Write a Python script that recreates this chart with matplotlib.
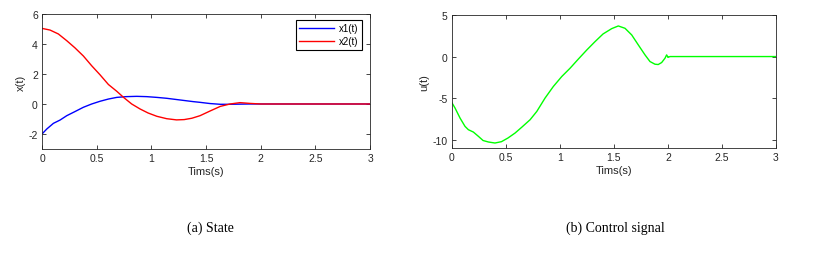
import matplotlib
matplotlib.use('Agg')
import matplotlib.pyplot as plt
import numpy as np

# state trajectories
t_x1 = [0, 0.043, 0.104, 0.165, 0.226, 0.30, 0.378, 0.454, 0.53, 0.607, 0.683, 0.77, 0.866, 0.957,
        1.05, 1.14, 1.26, 1.38, 1.445, 1.536, 1.63, 1.72, 1.9, 2.2, 3.0]
x1 = [-2.0, -1.67, -1.29, -1.07, -0.78, -0.51, -0.22, 0.0, 0.18, 0.33, 0.44, 0.49, 0.51, 0.49,
      0.44, 0.38, 0.27, 0.16, 0.11, 0.03, -0.02, -0.02, 0.0, 0.0, 0.0]

t_x2 = [0, 0.073, 0.149, 0.226, 0.30, 0.378, 0.454, 0.53, 0.607, 0.683, 0.744, 0.82, 0.896, 0.97,
        1.05, 1.14, 1.23, 1.30, 1.37, 1.445, 1.536, 1.63, 1.72, 1.81, 1.9, 2.0, 3.0]
x2 = [5.04, 4.93, 4.67, 4.22, 3.75, 3.2, 2.55, 1.95, 1.3, 0.85, 0.45, 0.0, -0.33, -0.6,
      -0.82, -0.98, -1.06, -1.04, -0.95, -0.78, -0.47, -0.16, 0.0, 0.09, 0.04, 0.0, 0.0]

# control signal
t_u = [0, 0.031, 0.077, 0.123, 0.154, 0.2, 0.247, 0.29, 0.34, 0.40, 0.46, 0.52, 0.586, 0.648, 0.725,
       0.787, 0.863, 0.94, 1.018, 1.095, 1.17, 1.25, 1.326, 1.40, 1.48, 1.541, 1.603, 1.665, 1.726,
       1.788, 1.834, 1.88, 1.91, 1.942, 1.973, 1.988, 1.997, 2.0, 2.02, 3.0]
u = [-5.52, -6.2, -7.4, -8.4, -8.8, -9.08, -9.6, -10.1, -10.28, -10.4, -10.24, -9.8, -9.2, -8.5, -7.6,
     -6.6, -5.0, -3.6, -2.4, -1.4, -0.32, 0.8, 1.8, 2.72, 3.36, 3.68, 3.4, 2.6, 1.4,
     0.2, -0.6, -0.92, -0.96, -0.72, -0.2, 0.2, 0.0, -0.1, 0.0, 0.0]

tcol = '#262626'
plt.rcParams['font.family'] = ['Liberation Sans', 'DejaVu Sans']
plt.rcParams['axes.unicode_minus'] = False

fig = plt.figure(figsize=(8.29, 2.55), dpi=100)


def style(ax):
    ax.tick_params(direction='in', top=True, right=True, length=3, width=0.6,
                   colors=tcol, labelsize=7.5, pad=3)
    for s in ax.spines.values():
        s.set_linewidth(0.6)
        s.set_color(tcol)


ax1 = fig.add_axes([0.0507, 0.4118, 0.3957, 0.5294])
ax1.plot(t_x1, x1, color=(0, 0, 1), lw=1.0, label='x1(t)')
ax1.plot(t_x2, x2, color=(1, 0, 0), lw=1.0, label='x2(t)')
ax1.set_xlim(0, 3)
ax1.set_ylim(-3, 6)
ax1.set_xticks([0, 0.5, 1, 1.5, 2, 2.5, 3])
ax1.set_xticklabels(['0', '0.5', '1', '1.5', '2', '2.5', '3'])
ax1.set_yticks([-2, 0, 2, 4, 6])
ax1.set_xlabel('Tims(s)', color=tcol, fontsize=8, labelpad=2)
ax1.set_ylabel('x(t)', color=tcol, fontsize=8, labelpad=2)
style(ax1)
leg = ax1.legend(loc='upper right', bbox_to_anchor=(0.9756, 0.9556), fontsize=7,
                 fancybox=False, framealpha=1, edgecolor='black', handlelength=3.6,
                 borderpad=0.35, labelspacing=0.3, handletextpad=0.5, borderaxespad=0)
leg.get_frame().set_linewidth(0.8)

ax2 = fig.add_axes([0.5449, 0.4157, 0.3912, 0.5216])
ax2.plot(t_u, u, color=(0, 1, 0), lw=1.0)
ax2.set_xlim(0, 3)
ax2.set_ylim(-11, 5)
ax2.set_xticks([0, 0.5, 1, 1.5, 2, 2.5, 3])
ax2.set_xticklabels(['0', '0.5', '1', '1.5', '2', '2.5', '3'])
ax2.set_yticks([-10, -5, 0, 5])
ax2.set_xlabel('Tims(s)', color=tcol, fontsize=8, labelpad=2)
ax2.set_ylabel('u(t)', color=tcol, fontsize=8, labelpad=2)
style(ax2)

fig.text(210 / 829, 1 - 228 / 255, '(a) State', family='Liberation Serif', fontsize=10,
         ha='center', va='center')
fig.text(615 / 829, 1 - 228 / 255, '(b) Control signal', family='Liberation Serif', fontsize=10,
         ha='center', va='center')

fig.savefig('out.png', dpi=100)
